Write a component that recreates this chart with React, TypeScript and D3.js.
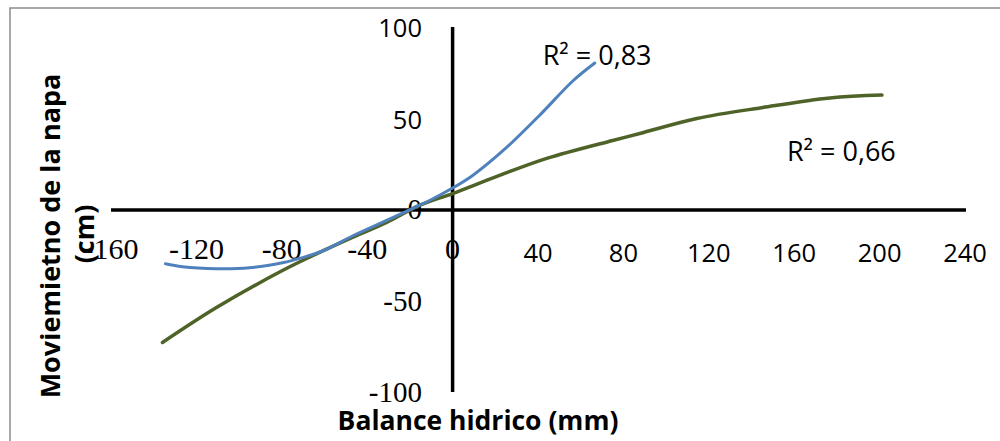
import React from "react";
import * as d3 from "d3";

const xTicks = [-160, -120, -80, -40, 0, 40, 80, 120, 160, 200, 240];
const yTicks = [-100, -50, 0, 50, 100];

const blueX = [-134.5, -126.6, -110.6, -95.2, -79.7, -70.3, -60.9, -46.9, -30.9, -18.8, -10.8, 0, 9.4, 25.3, 40.8, 56.3, 66.6];
const blueY = [-29.4, -31.0, -32.1, -31.6, -28.8, -26.0, -22.4, -14.2, -5.7, 0.8, 5.2, 12.0, 18.9, 34.2, 51.8, 70.5, 80.3];

const greenX = [-135.9, -110.6, -79.7, -62.3, -46.9, -30.9, -15.5, 0, 22.0, 44.1, 75.0, 87.7, 114.4, 145.3, 176.7, 201.1];
const greenY = [-72.4, -53.3, -33.1, -23.2, -15.0, -6.8, 2.5, 9.0, 18.9, 28.2, 38.0, 41.8, 50.0, 56.0, 61.2, 62.8];

const r2Blue = "R² = 0,83";
const r2Green = "R² = 0,66";
const xTitle = "Balance hidrico (mm)";
const yTitle1 = "Moviemietno de la napa";
const yTitle2 = "(cm)";

const W = 1000;
const H = 441;

export default function App() {
  const x = d3.scaleLinear().domain([-160, 240]).range([111, 965]);
  const y = d3.scaleLinear().domain([-100, 100]).range([393, 27]);
  const line = d3
    .line<[number, number]>()
    .x((d) => x(d[0]))
    .y((d) => y(d[1]))
    .curve(d3.curveCatmullRom.alpha(0.5));
  const blue = blueX.map((v, i) => [v, blueY[i]] as [number, number]);
  const green = greenX.map((v, i) => [v, greenY[i]] as [number, number]);
  const sans = "'Open Sans', sans-serif";
  const serif = "'Liberation Serif', 'Times New Roman', serif";
  const x0 = x(0);
  const y0 = y(0);

  return (
    <svg
      width={W}
      height={H}
      style={{ position: "absolute", left: 0, top: 0, background: "#fff" }}
    >
      <rect x={0} y={0} width={W} height={H} fill="#fff" />
      <rect x={10} y={8} width={W + 20} height={H + 20} fill="none" stroke="#8c8c8c" strokeWidth={1.5} />

      {/* axes */}
      <line x1={x(-160)} x2={x(240) + 1} y1={y0} y2={y0} stroke="#000" strokeWidth={3.5} />
      <line x1={x0} x2={x0} y1={y(100)} y2={y(-100) - 1} stroke="#000" strokeWidth={3.5} />

      {/* x tick labels */}
      {xTicks.map((t) =>
        t <= 0 ? (
          <text key={"x" + t} x={x(t)} y={259} textAnchor="middle" fontFamily={serif} fontSize={30} fill="#000">
            {t}
          </text>
        ) : (
          <text key={"x" + t} x={x(t)} y={262} textAnchor="middle" fontFamily={sans} fontSize={25.5} fill="#000">
            {t}
          </text>
        )
      )}

      {/* y tick labels */}
      {yTicks.map((t) =>
        t > 0 ? (
          <text key={"y" + t} x={422} y={y(t) + 10} textAnchor="end" fontFamily={sans} fontSize={25.5} fill="#000">
            {t}
          </text>
        ) : (
          <text key={"y" + t} x={422} y={y(t) + 9} textAnchor="end" fontFamily={serif} fontSize={29} fill="#000">
            {t}
          </text>
        )
      )}

      {/* curves */}
      <path d={line(green) || ""} fill="none" stroke="#4F6228" strokeWidth={3.5} strokeLinecap="round" />
      <path d={line(blue) || ""} fill="none" stroke="#4F81BD" strokeWidth={3} strokeLinecap="round" />

      {/* R2 labels */}
      <text x={x(42.2)} y={y(79)} fontFamily={sans} fontSize={27} fill="#000">
        {r2Blue}
      </text>
      <text x={x(156.6)} y={y(27)} fontFamily={sans} fontSize={27} fill="#000">
        {r2Green}
      </text>

      {/* axis titles */}
      <text x={478} y={430} textAnchor="middle" fontFamily={sans} fontWeight="bold" fontSize={26.5} fill="#000">
        {xTitle}
      </text>
      <text
        transform="translate(60,236) rotate(-90)"
        textAnchor="middle"
        fontFamily={sans}
        fontWeight="bold"
        fontSize={27}
        fill="#000"
      >
        {yTitle1}
      </text>
      <text
        transform="translate(94,234) rotate(-90)"
        textAnchor="middle"
        fontFamily={sans}
        fontWeight="bold"
        fontSize={27}
        fill="#000"
      >
        {yTitle2}
      </text>
    </svg>
  );
}
